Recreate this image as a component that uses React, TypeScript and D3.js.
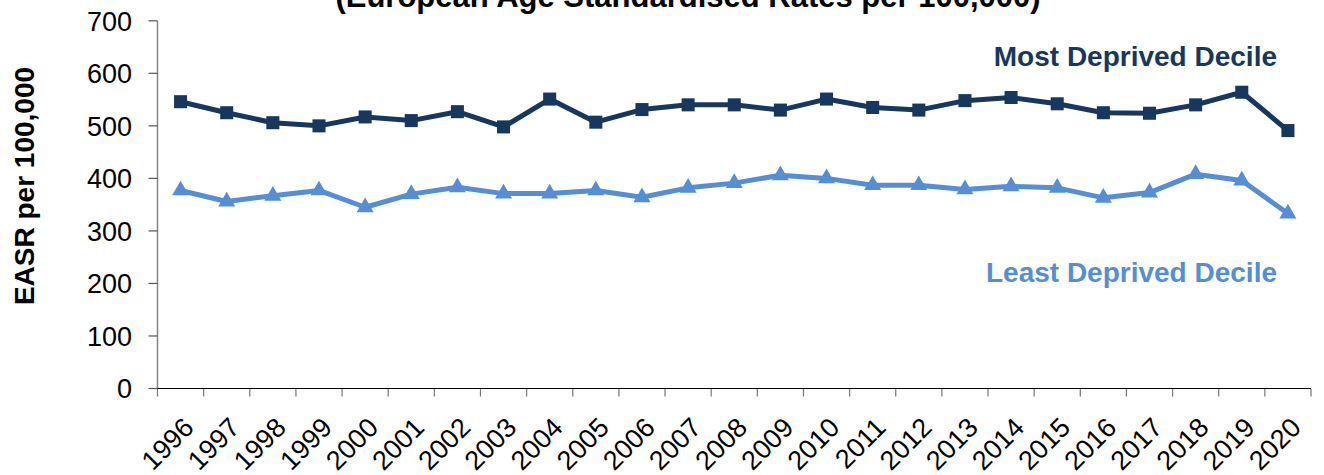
import React, { useRef, useEffect } from "react";
import * as d3 from "d3";

const years = [
  "1996", "1997", "1998", "1999", "2000", "2001", "2002", "2003", "2004",
  "2005", "2006", "2007", "2008", "2009", "2010", "2011", "2012", "2013",
  "2014", "2015", "2016", "2017", "2018", "2019", "2020",
];

const mostDeprived = [
  546, 525, 506, 500, 517, 510, 527, 498, 551, 507, 531, 540, 540, 530, 551,
  535, 530, 548, 554, 542, 525, 524, 540, 564, 491,
];

const leastDeprived = [
  377, 356, 367, 377, 345, 370, 383, 371, 371, 377, 364, 382, 391, 406, 400,
  387, 387, 379, 385, 382, 363, 373, 408, 396, 333,
];

const yTicks = [0, 100, 200, 300, 400, 500, 600, 700];

const title = "(European Age Standardised Rates per 100,000)";
const yLabel = "EASR per 100,000";
const mostLabel = "Most Deprived Decile";
const leastLabel = "Least Deprived Decile";

const width = 1324;
const height = 475;
const margin = { top: 20.8, right: 13, bottom: 86.5, left: 157.5 };

const darkBlue = "#17375E";
const lightBlue = "#558ED5";
const font = "Arial, 'Liberation Sans', sans-serif";

const App = () => {
  const svgRef = useRef<SVGSVGElement>(null);

  useEffect(() => {
    const svg = d3.select(svgRef.current);
    svg.selectAll("*").remove();

    const x = d3
      .scaleBand<string>()
      .domain(years)
      .range([margin.left, width - margin.right]);

    const y = d3
      .scaleLinear()
      .domain([0, 700])
      .range([height - margin.bottom, margin.top]);

    const cx = (d: string) => (x(d) as number) + x.bandwidth() / 2;

    // title, cut off at the top like the original
    svg
      .append("text")
      .attr("x", 688)
      .attr("y", 7)
      .attr("text-anchor", "middle")
      .style("font-family", font)
      .style("font-weight", "bold")
      .style("font-size", "31px")
      .text(title);

    // y axis
    const yAxis = svg.append("g");
    yAxis
      .append("line")
      .attr("x1", margin.left)
      .attr("x2", margin.left)
      .attr("y1", y(0))
      .attr("y2", y(700))
      .attr("stroke", "#868686")
      .attr("stroke-width", 1.5);
    yAxis
      .selectAll(".ytick")
      .data(yTicks)
      .enter()
      .append("line")
      .attr("x1", margin.left - 9)
      .attr("x2", margin.left)
      .attr("y1", (d) => y(d))
      .attr("y2", (d) => y(d))
      .attr("stroke", "#555")
      .attr("stroke-width", 1.2);
    yAxis
      .selectAll(".ylabel")
      .data(yTicks)
      .enter()
      .append("text")
      .attr("x", 132)
      .attr("y", (d) => y(d))
      .attr("dy", "0.36em")
      .attr("text-anchor", "end")
      .style("font-family", font)
      .style("font-size", "27px")
      .text((d) => d);

    svg
      .append("text")
      .attr("transform", `translate(34,186) rotate(-90)`)
      .attr("text-anchor", "middle")
      .style("font-family", font)
      .style("font-weight", "bold")
      .style("font-size", "28px")
      .text(yLabel);

    // x axis, ticks between categories
    const xAxis = svg.append("g");
    const edges = years.map((d) => x(d) as number).concat(x.range()[1]);
    xAxis
      .selectAll(".xtick")
      .data(edges)
      .enter()
      .append("line")
      .attr("x1", (d) => d)
      .attr("x2", (d) => d)
      .attr("y1", y(0))
      .attr("y2", y(0) + 8)
      .attr("stroke", "#777")
      .attr("stroke-width", 1.2);
    xAxis
      .append("line")
      .attr("x1", margin.left)
      .attr("x2", width - margin.right)
      .attr("y1", y(0))
      .attr("y2", y(0))
      .attr("stroke", "#000")
      .attr("stroke-width", 1.2);
    xAxis
      .selectAll(".xlabel")
      .data(years)
      .enter()
      .append("text")
      .attr("transform", (d) => `translate(${cx(d) + 8},${y(0) + 34}) rotate(-45)`)
      .attr("text-anchor", "end")
      .attr("dy", "0.35em")
      .style("font-family", font)
      .style("font-size", "27px")
      .text((d) => d);

    // series
    const series = [
      { values: mostDeprived, color: darkBlue, symbol: d3.symbolSquare, size: 170 },
      { values: leastDeprived, color: lightBlue, symbol: d3.symbolTriangle, size: 125 },
    ];

    series.forEach((s) => {
      const line = d3
        .line<number>()
        .x((_, i) => cx(years[i]))
        .y((d) => y(d));

      svg
        .append("path")
        .datum(s.values)
        .attr("d", line)
        .attr("fill", "none")
        .attr("stroke", s.color)
        .attr("stroke-width", 5)
        .attr("stroke-linejoin", "round");

      svg
        .append("g")
        .selectAll("path")
        .data(s.values)
        .enter()
        .append("path")
        .attr("transform", (d, i) => `translate(${cx(years[i])},${y(d)})`)
        .attr("d", d3.symbol().type(s.symbol).size(s.size)())
        .attr("fill", s.color);
    });

    // direct labels
    svg
      .append("text")
      .attr("x", 1277)
      .attr("y", 66)
      .attr("text-anchor", "end")
      .style("font-family", font)
      .style("font-weight", "bold")
      .style("font-size", "28px")
      .style("fill", darkBlue)
      .text(mostLabel);

    svg
      .append("text")
      .attr("x", 1277)
      .attr("y", 282)
      .attr("text-anchor", "end")
      .style("font-family", font)
      .style("font-weight", "bold")
      .style("font-size", "28px")
      .style("fill", lightBlue)
      .text(leastLabel);
  }, []);

  return (
    <svg
      ref={svgRef}
      width={width}
      height={height}
      style={{ position: "absolute", left: 0, top: 0, background: "#fff" }}
    />
  );
};

export default App;
